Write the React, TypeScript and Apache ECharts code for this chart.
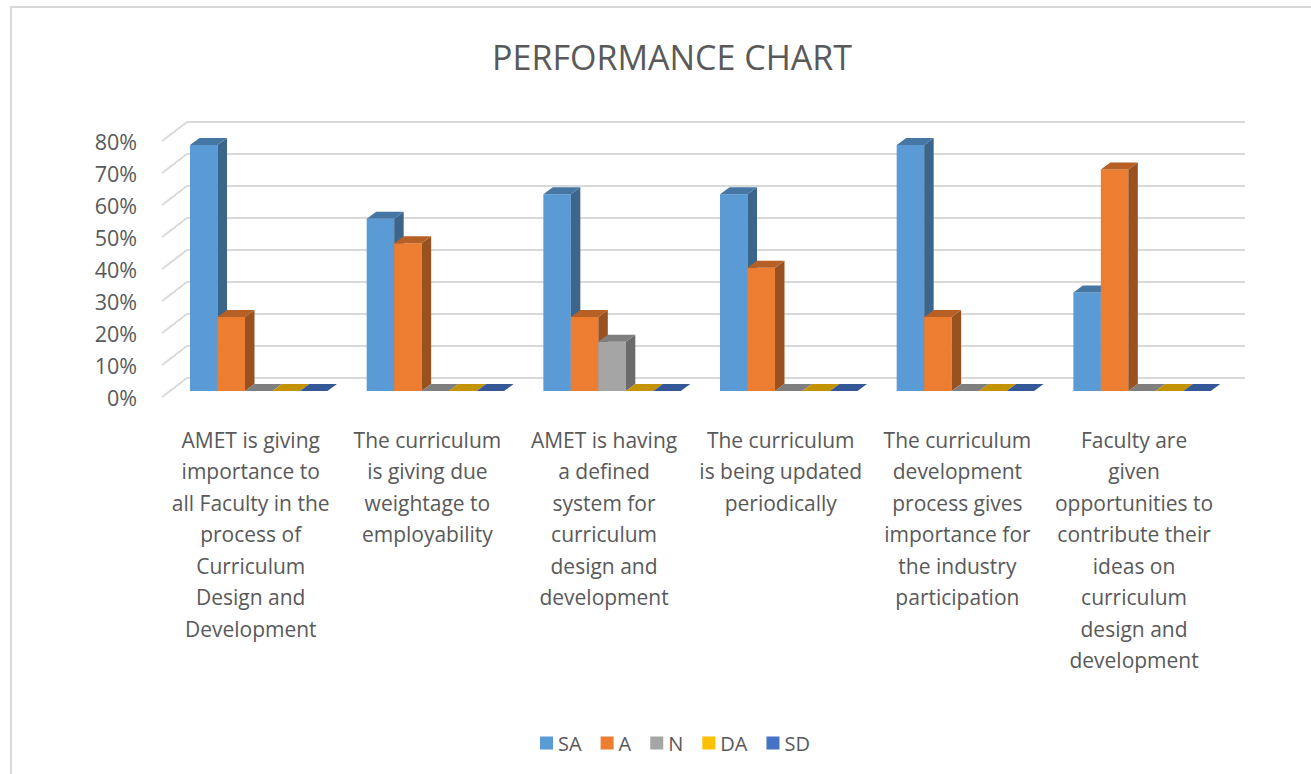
import React, { useEffect, useRef } from "react";
import * as echarts from "echarts";

const categories = [
  "AMET is giving\nimportance to\nall Faculty in the\nprocess of\nCurriculum\nDesign and\nDevelopment",
  "The curriculum\nis giving due\nweightage to\nemployability",
  "AMET is having\na defined\nsystem for\ncurriculum\ndesign and\ndevelopment",
  "The curriculum\nis being updated\nperiodically",
  "The curriculum\ndevelopment\nprocess gives\nimportance for\nthe industry\nparticipation",
  "Faculty are\ngiven\nopportunities to\ncontribute their\nideas on\ncurriculum\ndesign and\ndevelopment",
];
const seriesNames = ["SA", "A", "N", "DA", "SD"];
const SA = [76.9, 53.8, 61.5, 61.5, 76.9, 30.8];
const A = [23.1, 46.2, 23.1, 38.5, 23.1, 69.2];
const N = [0, 0, 15.4, 0, 0, 0];
const DA = [0, 0, 0, 0, 0, 0];
const SD = [0, 0, 0, 0, 0, 0];
const seriesValues = [SA, A, N, DA, SD];
const tickValues = [0, 10, 20, 30, 40, 50, 60, 70, 80];
const palette = ["#5b9bd5", "#ed7d31", "#a5a5a5", "#ffc000", "#4472c4"];

function shade(hex: string, f: number) {
  const n = parseInt(hex.slice(1), 16);
  const r = Math.round(((n >> 16) & 255) * f);
  const g = Math.round(((n >> 8) & 255) * f);
  const b = Math.round((n & 255) * f);
  return `rgb(${r},${g},${b})`;
}

const FONT = "'Open Sans', Lato, sans-serif";
const TEXT = "#595959";
const GRIDC = "#d9d9d9";

export default function App() {
  const ref = useRef<HTMLDivElement>(null);
  useEffect(() => {
    if (!ref.current) return;
    const chart = echarts.init(ref.current, undefined, { renderer: "svg" });
    const DX = 9.5;
    const DY = -7;
    const WDX = -25;
    const WDY = 19;

    const barSeries = seriesValues.map((vals, s) => ({
      name: seriesNames[s],
      type: "custom",
      xAxisIndex: 2,
      yAxisIndex: 2,
      itemStyle: { color: palette[s] },
      data: vals.map((v, i) => [i, v]),
      renderItem: (params: any, api: any) => {
        const ci = api.value(0);
        const v = api.value(1);
        const top = api.coord([ci, v]);
        const base = api.coord([ci, 0]);
        const bw = api.size([1, 0])[0];
        const groupW = bw * 0.778;
        const w = groupW / 5;
        const x = top[0] - groupW / 2 + s * w;
        const y = top[1];
        const y0 = base[1];
        const c = palette[s];
        const children: any[] = [];
        if (y0 - y > 0.5) {
          children.push({
            type: "rect",
            shape: { x, y, width: w, height: y0 - y },
            style: { fill: c },
          });
          children.push({
            type: "polygon",
            shape: {
              points: [
                [x + w, y],
                [x + w + DX, y + DY],
                [x + w + DX, y0 + DY],
                [x + w, y0],
              ],
            },
            style: { fill: shade(c, 0.65) },
          });
        }
        children.push({
          type: "polygon",
          shape: {
            points: [
              [x, y],
              [x + DX, y + DY],
              [x + w + DX, y + DY],
              [x + w, y],
            ],
          },
          style: { fill: shade(c, 0.77) },
        });
        return { type: "group", children };
      },
    }));

    const option: any = {
      animation: false,
      color: palette,
      title: {
        text: "PERFORMANCE CHART",
        left: 667,
        top: 35,
        textAlign: "center",
        textStyle: {
          fontFamily: FONT,
          fontSize: 34,
          fontWeight: "normal",
          color: TEXT,
        },
      },
      legend: {
        data: seriesNames,
        left: 535,
        top: 728,
        icon: "rect",
        itemWidth: 13,
        itemHeight: 13,
        itemGap: 19,
        textStyle: { fontFamily: FONT, fontSize: 20, color: TEXT },
      },
      graphic: [
        {
          type: "rect",
          shape: { x: 11, y: 7, width: 1400, height: 900 },
          style: { fill: "none", stroke: GRIDC, lineWidth: 2 },
          silent: true,
        },
      ],
      grid: [
        { left: 187, top: 122, width: 1058, height: 256 },
        { left: 162, top: 141, width: 10, height: 256 },
        { left: 170.4, top: 135, width: 1060, height: 256 },
      ],
      xAxis: [
        { gridIndex: 0, type: "value", min: 0, max: 1, show: false },
        { gridIndex: 1, type: "value", min: 0, max: 1, show: false },
        {
          gridIndex: 2,
          type: "category",
          data: categories,
          axisLine: { show: false },
          axisTick: { show: false },
          axisLabel: {
            interval: 0,
            margin: 33,
            fontFamily: FONT,
            fontSize: 21,
            lineHeight: 31.5,
            color: TEXT,
            align: "center",
            padding: [0, 16, 0, 0],
          },
        },
      ],
      yAxis: [
        {
          gridIndex: 0,
          type: "value",
          min: 0,
          max: 80,
          interval: 10,
          axisLabel: { show: false },
          axisLine: { show: false },
          axisTick: { show: false },
          splitLine: { show: true, lineStyle: { color: GRIDC, width: 2 } },
        },
        {
          gridIndex: 1,
          type: "value",
          min: 0,
          max: 80,
          interval: 10,
          axisLine: { show: false },
          axisTick: { show: false },
          splitLine: { show: false },
          axisLabel: {
            margin: 25,
            formatter: "{value}%",
            fontFamily: FONT,
            fontSize: 21.5,
            color: TEXT,
          },
        },
        {
          gridIndex: 2,
          type: "value",
          min: 0,
          max: 80,
          interval: 10,
          show: false,
          splitLine: { show: false },
        },
      ],
      series: [
        {
          type: "custom",
          silent: true,
          xAxisIndex: 0,
          yAxisIndex: 0,
          data: tickValues.map((t) => [0, t]),
          renderItem: (params: any, api: any) => {
            const p = api.coord([api.value(0), api.value(1)]);
            return {
              type: "line",
              shape: { x1: p[0], y1: p[1], x2: p[0] + WDX, y2: p[1] + WDY },
              style: { stroke: GRIDC, lineWidth: 2 },
            };
          },
        },
        ...barSeries,
      ],
    };
    chart.setOption(option);
    return () => chart.dispose();
  }, []);
  return (
    <div
      ref={ref}
      style={{ position: "fixed", left: 0, top: 0, width: 1311, height: 774, background: "#fff" }}
    />
  );
}
